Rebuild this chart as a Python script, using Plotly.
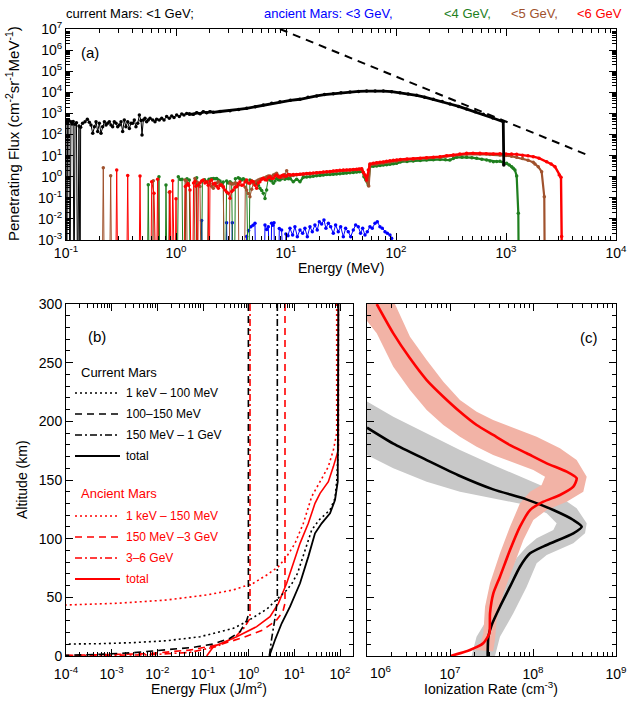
import plotly.graph_objects as go

W, H = 629, 701
def px(x): return x / W
def py(y): return 1 - y / H

FLOOR = 1e-6  # stands in for zero flux (below the axis)

# ---------------- Panel (a): (log10 E [MeV], log10 flux); None = zero flux
black_lo = [(-1.0,2.65),(-0.994,None),(-0.985,2.55),(-0.975,2.68),(-0.964,None),(-0.955,2.6),(-0.945,2.5),
    (-0.935,2.62),(-0.927,None),(-0.918,2.48),(-0.905,2.56),(-0.894,None),(-0.882,2.4),(-0.872,None),
    (-0.867,2.34),(-0.849,2.53),(-0.827,2.61),(-0.806,2.72),(-0.788,2.58),(-0.773,2.45),(-0.757,2.06),
    (-0.742,2.37),(-0.727,2.61),(-0.712,2.14),(-0.697,2.53),(-0.682,2.06),(-0.667,2.37),(-0.651,2.61),
    (-0.636,2.45),(-0.621,2.53),(-0.606,2.61),(-0.591,2.45),(-0.576,2.37),(-0.561,2.61),(-0.545,2.53),
    (-0.530,2.37),(-0.515,2.45),(-0.500,2.61),(-0.485,2.14),(-0.470,2.69),(-0.455,2.37),(-0.439,2.61),
    (-0.424,2.29),(-0.409,2.53),(-0.394,2.53),(-0.379,2.69),(-0.364,2.37),(-0.348,2.53),(-0.333,2.92),
    (-0.318,2.66),(-0.309,1.98),(-0.297,2.69),(-0.282,2.77),(-0.267,2.61),(-0.252,2.69),(-0.236,2.77),
    (-0.212,2.69),(-0.191,2.61),(-0.176,2.72),(-0.152,2.69),(-0.130,2.77),(-0.109,2.69),(-0.085,2.85),
    (-0.061,2.77),(-0.039,2.88),(-0.018,2.81),(0.006,2.92),(0.030,2.85),(0.052,2.97),(0.073,2.92),
    (0.097,3.0),(0.121,2.97)]
black_hi = [(0.121,2.97),(0.158,2.96),(0.188,3.03),(0.218,2.98),(0.248,3.08),(0.279,3.03),(0.309,3.08),
    (0.339,3.05),(0.4,3.09),(0.491,3.13),(0.57,3.19),(0.642,3.24),(0.72,3.32),(0.794,3.4),(0.87,3.48),
    (0.945,3.556),(1.04,3.62),(1.127,3.67),(1.2,3.76),(1.279,3.83),(1.35,3.89),(1.43,3.935),(1.5,3.98),
    (1.582,4.014),(1.66,4.04),(1.733,4.06),(1.81,4.065),(1.885,4.06),(1.96,4.03),(2.036,3.98),(2.11,3.92),
    (2.188,3.856),(2.26,3.77),(2.339,3.67),(2.42,3.56),(2.491,3.445),(2.57,3.33),(2.642,3.21),(2.72,3.08),
    (2.794,2.956),(2.88,2.78),(2.975,2.61),(2.98,0.55)]
dashed_ref = [(0.945,7.0),(3.763,0.98)]

red_lo = [(-0.55,None),(-0.539,0.32),(-0.528,None),(-0.45,None),(-0.439,0.06),(-0.428,None),
    (-0.338,None),(-0.327,0.03),(-0.316,None),(-0.23,None),(-0.221,-0.24),(-0.2,-0.79),(-0.19,None),
    (-0.178,None),(-0.167,-0.12),(-0.156,None),(-0.066,None),(-0.055,-0.71),(-0.044,None),
    (-0.04,None),(-0.03,-0.19),(-0.02,None),(-0.01,None),(0.0,-1.04),(0.01,None),
    (0.075,None),(0.085,-0.47),(0.097,-0.39),(0.109,-0.32),(0.115,-0.4),(0.127,-0.63),(0.14,None),
    (0.15,None),(0.16,-0.3),(0.172,-0.22),(0.182,-0.45),(0.19,None),
    (0.195,None),(0.203,-0.39),(0.218,-0.3),(0.233,-0.2),(0.248,-0.156),(0.263,-0.3),(0.278,-0.235),
    (0.293,-0.4),(0.302,None),(0.309,-0.2),(0.324,-0.156),(0.339,-0.35),(0.354,-0.314),(0.37,-0.45),
    (0.385,-0.551),(0.4,-0.4),(0.415,-0.393),(0.43,-0.5),(0.445,-0.63),(0.46,-0.72),(0.475,-0.788),
    (0.491,-1.025),(0.506,-0.7),(0.521,-0.63),(0.536,-0.5),(0.551,-0.472),(0.566,-0.35),(0.581,-0.235),
    (0.597,-0.4),(0.612,-0.393),(0.627,-0.25),(0.642,-0.156),(0.657,-0.3),(0.672,-0.314),(0.688,-0.2),
    (0.703,-0.235),(0.718,-0.4),(0.733,-0.551),(0.748,-0.3),(0.763,-0.235),(0.779,-0.12),(0.794,-0.077),
    (0.809,-0.15),(0.824,-0.156),(0.839,-0.05),(0.854,0.002),(0.869,-0.08),(0.885,-0.077),(0.9,0.03),
    (0.915,0.081),(0.93,0.0),(0.945,-0.03),(0.96,0.05),(0.975,0.081),(0.99,0.02),(1.006,0.033),
    (1.021,0.1),(1.036,0.08)]
red_hi = [(1.036,0.08),(1.066,0.1),(1.097,0.11),(1.127,0.12),(1.157,0.13),(1.188,0.15),(1.218,0.16),
    (1.248,0.17),(1.278,0.19),(1.309,0.2),(1.339,0.22),(1.37,0.24),(1.4,0.25),(1.43,0.27),(1.46,0.28),
    (1.49,0.3),(1.521,0.32),(1.551,0.32),(1.581,0.32),(1.612,0.34),(1.642,0.35),(1.665,0.37),(1.688,0.38),
    (1.703,0.2),(1.718,0.08),(1.733,-0.156),(1.748,0.32),(1.763,0.6),(1.794,0.64),(1.824,0.665),
    (1.855,0.68),(1.885,0.7),(1.915,0.73),(1.945,0.76),(1.976,0.78),(2.006,0.79),(2.04,0.82),(2.1,0.84),
    (2.157,0.855),(2.22,0.88),(2.278,0.9),(2.34,0.92),(2.4,0.95),(2.46,0.99),(2.521,1.03),(2.58,1.07),
    (2.642,1.107),(2.7,1.11),(2.763,1.107),(2.82,1.09),(2.885,1.08),(2.945,1.09),(3.0,1.08),(3.05,1.07),
    (3.097,1.06),(3.15,1.02),(3.2,0.99),(3.248,0.95),(3.3,0.88),(3.37,0.71),(3.41,0.6),(3.445,0.475),
    (3.484,0.08),(3.5,-0.03),(3.506,-2.84),(3.51,None)]

green_lo = [(-0.262,None),(-0.252,-0.38),(-0.242,None),(-0.165,None),(-0.155,0.0),(-0.145,None),
    (-0.1,None),(-0.091,-0.39),(-0.08,None),(0.01,None),(0.021,0.0),(0.04,-0.13),(0.055,-0.125),
    (0.065,None),(0.08,None),(0.09,-0.16),(0.1,-0.1),(0.121,-0.157),(0.13,None),(0.18,None),
    (0.188,-0.05),(0.2,None),(0.23,None),(0.24,-0.2),(0.26,-0.15),(0.28,-0.25),(0.3,-0.12),(0.32,-0.1),
    (0.339,-0.08),(0.355,-0.1),(0.37,-0.08),(0.385,-0.16),(0.4,-0.2),(0.415,-0.31),(0.43,-0.25),
    (0.44,None),(0.45,None),(0.46,-0.2),(0.475,-0.3),(0.491,-0.235),(0.506,-0.314),(0.52,None),
    (0.53,None),(0.54,-0.1),(0.566,-0.05),(0.581,-0.1),(0.597,-0.156),(0.612,-0.1),(0.627,-0.156),
    (0.642,-0.2),(0.66,None),(0.665,None),(0.672,-0.156),(0.688,-0.2),(0.703,-0.25),(0.718,-0.3),
    (0.733,-0.314),(0.748,-0.4),(0.763,-0.55),(0.779,-0.65),(0.794,-0.79),(0.809,-1.03),(0.824,-0.63),
    (0.839,-0.08),(0.854,-0.156),(0.869,-0.2),(0.885,-0.314),(0.9,-0.2),(0.915,-0.08),(0.93,-0.15),
    (0.945,-0.156),(0.96,-0.1),(0.975,-0.03),(0.99,-0.12),(1.006,-0.06),(1.021,-0.1),(1.036,-0.08)]
green_hi = [(1.036,-0.08),(1.066,-0.235),(1.097,-0.12),(1.127,-0.235),(1.157,-0.03),(1.188,-0.02),
    (1.218,0.0),(1.248,0.02),(1.278,0.05),(1.309,0.06),(1.339,0.08),(1.37,0.1),(1.4,0.11),(1.43,0.12),
    (1.46,0.13),(1.49,0.14),(1.521,0.16),(1.551,0.17),(1.581,0.19),(1.612,0.2),(1.642,0.22),(1.67,0.23),
    (1.697,0.24),(1.709,0.0),(1.727,-0.156),(1.748,-0.39),(1.763,0.475),(1.794,0.49),(1.824,0.507),
    (1.855,0.53),(1.885,0.555),(1.915,0.57),(1.945,0.586),(1.976,0.61),(2.006,0.634),(2.04,0.7),
    (2.1,0.72),(2.157,0.75),(2.22,0.77),(2.278,0.79),(2.34,0.8),(2.4,0.82),(2.45,0.8),(2.49,0.79),
    (2.521,0.86),(2.551,0.918),(2.6,0.92),(2.642,0.918),(2.69,0.9),(2.733,0.87),(2.78,0.83),(2.824,0.79),
    (2.855,0.75),(2.885,0.71),(2.915,0.72),(2.945,0.73),(2.975,0.68),(3.006,0.633),(3.03,0.56),
    (3.051,0.475),(3.066,0.4),(3.081,0.317),(3.097,0.033),(3.112,-1.736),(3.118,None)]

brown_lo = [(-0.672,None),(-0.661,0.43),(-0.65,None),(-0.605,None),(-0.594,0.05),(-0.583,None),
    (-0.217,None),(-0.206,-0.19),(-0.195,None),(-0.072,None),(-0.061,-0.74),(-0.05,None),
    (0.07,None),(0.082,-0.156),(0.095,-0.2),(0.105,None),(0.16,None),(0.172,-0.09),(0.19,-0.25),
    (0.203,-0.3),(0.218,-0.47),(0.23,None),(0.28,None),(0.294,-0.3),(0.309,-0.314),(0.324,-0.45),
    (0.339,-0.55),(0.354,-0.4),(0.37,-0.3),(0.385,-0.235),(0.4,-0.35),(0.415,-0.4),(0.43,-0.47),
    (0.44,None),(0.48,None),(0.491,-0.3),(0.506,-0.35),(0.521,-0.346),(0.536,-0.3),(0.551,-0.314),
    (0.566,-0.4),(0.575,None),(0.62,None),(0.63,-0.5),(0.642,-0.63),(0.657,-0.8),(0.672,-0.95),
    (0.688,-0.6),(0.703,-0.314),(0.718,-0.25),(0.733,-0.2),(0.748,-0.156),(0.763,-0.12),(0.779,-0.1),
    (0.794,-0.077),(0.809,-0.05),(0.824,0.0),(0.839,0.03),(0.854,0.033),(0.869,0.0),(0.885,0.08),
    (0.9,0.12),(0.915,0.16),(0.93,0.05),(0.945,0.0),(0.96,-0.03),(0.975,-0.05),(0.99,0.1),
    (1.006,0.286),(1.021,0.1),(1.036,0.05)]
brown_hi = [(1.036,0.05),(1.066,0.06),(1.097,0.09),(1.157,0.11),(1.218,0.13),(1.278,0.17),(1.339,0.2),
    (1.4,0.22),(1.46,0.26),(1.521,0.29),(1.581,0.3),(1.642,0.33),(1.688,0.35),(1.718,0.05),(1.733,-0.2),
    (1.752,-0.44),(1.763,0.55),(1.824,0.6),(1.885,0.65),(1.945,0.7),(2.006,0.74),(2.08,0.79),
    (2.157,0.83),(2.278,0.87),(2.4,0.92),(2.521,1.0),(2.642,1.06),(2.763,1.07),(2.855,1.05),
    (2.945,1.03),(3.0,1.0),(3.05,0.97),(3.097,0.918),(3.15,0.86),(3.2,0.78),(3.248,0.68),(3.263,0.6),
    (3.293,0.475),(3.324,0.24),(3.348,-0.95),(3.354,None)]

blue_all = [(0.222,None),(0.233,-2.08),(0.244,None),(0.45,None),(0.46,-2.18),(0.47,None),
    (0.502,None),(0.512,-2.18),(0.522,None),(0.632,None),(0.642,-2.84),(0.66,-2.55),(0.681,-2.37),
    (0.7,-2.3),(0.718,-2.21),(0.728,None),(0.799,None),(0.809,-2.29),(0.824,-2.5),(0.839,-2.37),
    (0.849,None),(0.859,None),(0.869,-2.21),(0.88,-2.3),(0.891,-2.18),(0.901,None),(0.929,None),
    (0.939,-2.45),(0.96,-2.53),(0.97,None),(0.99,None),(0.999,-2.72),(1.018,-2.8),
    (1.036,-2.447),(1.06,-2.763),(1.081,-2.368),(1.103,-2.842),(1.127,-2.526),(1.151,-2.684),
    (1.172,-2.447),(1.194,-2.842),(1.218,-2.368),(1.239,-2.605),(1.263,-2.289),(1.284,-2.526),
    (1.303,-2.131),(1.324,-2.242),(1.345,-2.052),(1.363,-2.447),(1.385,-2.21),(1.406,-2.368),
    (1.43,-2.684),(1.451,-2.289),(1.475,-2.605),(1.497,-2.368),(1.521,-2.842),(1.542,-2.447),
    (1.566,-2.605),(1.588,-2.842),(1.612,-2.526),(1.633,-2.289),(1.657,-2.368),(1.678,-2.684),
    (1.697,-2.447),(1.718,-2.763),(1.739,-2.605),(1.763,-2.368),(1.784,-2.447),(1.809,-2.21),
    (1.83,-2.131),(1.854,-2.368),(1.875,-2.447),(1.9,-2.605),(1.921,-2.684),(1.945,-2.763),
    (1.96,-2.92),(1.975,None)]

# ---------------- Panel (b): (log10 energy flux [J/m^2], altitude km)
b_cur_low = [(1.963,300),(1.963,180),(1.93,150),(1.89,134.4),(1.78,124.4),(1.54,115.9),(1.38,107.4),
    (1.22,87.5),(1.07,70.5),(0.95,62),(0.83,56),(0.6,47.7),(0.4,40),(0.248,36.4),(-0.043,29.3),
    (-0.335,23.6),(-1.066,16.4),(-1.795,13),(-2.526,11.4),(-3.256,10.5),(-4.0,10.2)]
b_cur_mid = [(-0.007,300),(-0.007,35),(-0.043,30.4),(-0.19,20.7),(-0.41,15.1),(-0.775,10.2),
    (-1.21,7.4),(-1.795,5.1),(-2.526,2.8),(-3.256,1.4),(-4.0,0.6)]
b_cur_high = [(0.627,300),(0.627,50),(0.6,38),(0.554,28),(0.5,14),(0.452,0)]
b_cur_total = [(1.963,300),(1.963,175),(1.95,148.6),(1.89,133),(1.781,121.6),(1.598,113.1),
    (1.452,104.6),(1.306,84.7),(1.124,62),(0.905,42),(0.723,27.9),(0.576,13.6),(0.452,0)]
b_anc_low = [(1.927,300),(1.927,189.8),(1.854,175.6),(1.744,161.4),(1.562,148.6),(1.379,135.8),
    (1.197,113.1),(1.014,96),(0.832,84.7),(0.65,76.1),(0.395,69),(0.1,62),(-0.337,56.3),(-0.92,52),
    (-1.795,47.7),(-2.89,44.9),(-4.0,43.5)]
b_anc_mid = [(0.795,300),(0.795,45),(0.75,38),(0.6,30),(0.3,22),(-0.1,16),(-0.6,10),(-1.3,5),
    (-2.2,2),(-4.0,0.5)]
b_anc_high = [(0.029,300),(0.029,32),(-0.1,24),(-0.3,16),(-0.7,8),(-1.3,3),(-2.2,1),(-4.0,0.3)]
b_anc_total = [(1.963,300),(1.963,175.6),(1.854,161.4),(1.744,148.6),(1.562,138.6),(1.452,130.1),
    (1.306,113.1),(1.124,96),(0.978,79),(0.832,62),(0.65,44.9),(0.467,33.5),(0.175,25),(-0.263,16.4),
    (-0.774,7.9),(-0.92,0)]

# ---------------- Panel (c): (log10 ionization rate [cm^-3], altitude km)
c_cur = [(6.0,194.6),(6.317,181),(6.719,167),(7.12,153.4),(7.52,142),(7.92,133.5),(8.245,124.4),
    (8.486,115.9),(8.587,110.2),(8.486,104.6),(8.165,94.6),(7.964,87.5),(7.843,76.1),(7.723,59.1),
    (7.602,42),(7.502,26.4),(7.462,16.4),(7.454,2.3),(7.454,0)]
c_cur_hi = [(5.95,219),(6.0,216.8),(6.317,204),(6.719,189.8),(7.12,175.6),(7.52,162.8),(7.843,152.8),
    (8.084,145.7),(8.325,135.8),(8.526,125.9),(8.647,113.1),(8.627,104.6),(8.486,96),(8.165,86),
    (8.044,79),(7.924,59),(7.763,36.4),(7.602,16.4),(7.542,0)]
c_cur_lo = [(5.95,173),(6.0,171.3),(6.317,160),(6.719,148.6),(7.12,140),(7.52,134.4),(7.924,128.7),
    (8.165,121.6),(8.285,113.1),(8.245,107.4),(8.044,100.3),(7.924,93.2),(7.80,83.3),(7.683,64.8),
    (7.562,47.7),(7.442,30.7),(7.32,16.4),(7.26,0)]
c_anc = [(6.117,300),(6.317,275),(6.518,253.7),(6.719,235.2),(6.92,221),(7.12,208.2),(7.321,196.9),
    (7.52,188.4),(7.723,179.8),(7.924,172.8),(8.165,164.2),(8.406,157.1),(8.526,151.5),(8.486,144.3),
    (8.325,137.2),(8.125,131.5),(7.964,124.4),(7.843,110.2),(7.723,90.3),(7.602,67.6),(7.522,53.4),
    (7.482,36.4),(7.474,19.3),(7.40,10.8),(7.241,5.1),(7.008,0)]
c_anc_hi = [(6.337,300),(6.518,272),(6.719,252.3),(6.92,233.8),(7.12,218.2),(7.321,208.2),(7.52,201.1),
    (7.723,195.4),(8.044,186.9),(8.325,177),(8.526,167),(8.647,152.8),(8.606,140),(8.406,131.5),
    (8.165,124.4),(8.004,115.9),(7.884,98.9),(7.763,76.1),(7.643,53.4),(7.562,30.7),(7.542,13.6),
    (7.52,4)]
c_anc_lo = [(5.95,300),(5.95,290),(6.117,275),(6.317,246.6),(6.518,226.7),(6.719,209.7),(6.92,196.9),
    (7.12,186.9),(7.321,178.4),(7.52,171.3),(7.723,165.6),(8.004,158.5),(8.145,152.8),(8.104,145.7),
    (7.964,140),(7.843,130.1),(7.723,110.2),(7.602,87.5),(7.482,62),(7.422,42),(7.402,19.3),
    (7.361,8),(7.30,5.1)]

# tick labels
a_xticks = [-1, 0, 1, 2, 3, 4]
a_yticks = [-3, -2, -1, 0, 1, 2, 3, 4, 5, 6, 7]
b_xticks = [-4, -3, -2, -1, 0, 1, 2]
c_xticks = [6, 7, 8, 9]
alt_ticks = [0, 50, 100, 150, 200, 250, 300]

RED, BLUE, GREEN, BROWN = '#FF0000', '#0000FF', '#1E7F1E', '#A0522D'
GREY_BAND, RED_BAND = '#C8C8C8', '#F2B3A6'
FONT = 'Liberation Sans'

def lin(v):
    return FLOOR if v is None else 10 ** v

def xs(pts): return [lin(p[0]) for p in pts]
def ys_log(pts): return [lin(p[1]) for p in pts]
def ys(pts): return [p[1] for p in pts]

fig = go.Figure()

def add_a(pts, color, width, msize=3.5, mode='lines+markers'):
    fig.add_trace(go.Scatter(x=xs(pts), y=ys_log(pts), mode=mode, xaxis='x', yaxis='y',
                             line=dict(color=color, width=width),
                             marker=dict(size=msize, color=color), cliponaxis=True,
                             hoverinfo='skip'))

add_a(blue_all, BLUE, 1)
add_a(green_lo, GREEN, 1)
add_a(brown_lo, BROWN, 1)
add_a(red_lo, RED, 1)
add_a(green_hi, GREEN, 2.2)
add_a(brown_hi, BROWN, 2.2)
add_a(red_hi, RED, 2.4)
add_a(black_lo, 'black', 1)
add_a(black_hi, 'black', 2.8)
fig.add_trace(go.Scatter(x=xs(dashed_ref), y=ys_log(dashed_ref), mode='lines', xaxis='x', yaxis='y',
                         line=dict(color='black', width=2, dash='8px,6px'), hoverinfo='skip'))

def add_b(pts, color, dash, width):
    fig.add_trace(go.Scatter(x=xs(pts), y=ys(pts), mode='lines', xaxis='x2', yaxis='y2',
                             line=dict(color=color, width=width, dash=dash), hoverinfo='skip'))

DOT, DASH, DASHDOT = '2px,3px', '7px,5px', '7px,3px,2px,3px'
add_b(b_anc_low, RED, DOT, 1.6)
add_b(b_anc_mid, RED, DASH, 1.6)
add_b(b_anc_high, RED, DASHDOT, 1.6)
add_b(b_anc_total, RED, 'solid', 1.6)
add_b(b_cur_low, 'black', DOT, 1.6)
add_b(b_cur_mid, 'black', DASH, 1.6)
add_b(b_cur_high, 'black', DASHDOT, 1.6)
add_b(b_cur_total, 'black', 'solid', 1.8)

def add_band(hi, lo, color):
    poly = hi + lo[::-1]
    fig.add_trace(go.Scatter(x=xs(poly), y=ys(poly), mode='lines', fill='toself', fillcolor=color,
                             line=dict(width=0, color=color), xaxis='x3', yaxis='y3', hoverinfo='skip'))

add_band(c_cur_hi, c_cur_lo, GREY_BAND)
add_band(c_anc_hi, c_anc_lo, RED_BAND)
for pts, color in [(c_cur, 'black'), (c_anc, RED)]:
    fig.add_trace(go.Scatter(x=xs(pts), y=ys(pts), mode='lines', xaxis='x3', yaxis='y3',
                             line=dict(color=color, width=2.6, shape='spline', smoothing=0.6),
                             hoverinfo='skip'))

def pow_text(k):
    return '10<sup>%d</sup>' % k

def log_minor(lo, hi):
    return [m * 10 ** k for k in range(lo, hi + 1) for m in range(2, 10)]

axis_common = dict(showline=True, linecolor='black', linewidth=1, mirror='allticks', ticks='inside',
                   ticklen=7, tickwidth=1, tickcolor='black', showgrid=False, zeroline=False,
                   automargin=False,
                   tickfont=dict(size=14, color='black', family=FONT))

def log_axis(ticks, rng, domain, anchor, minor_lo, minor_hi, hide_first=False, standoff=None):
    d = dict(axis_common)
    d.update(type='log', range=rng, domain=domain, anchor=anchor, tickmode='array',
             tickvals=[10 ** k for k in ticks],
             ticktext=[('' if (hide_first and i == 0) else pow_text(k)) for i, k in enumerate(ticks)],
             minor=dict(tickmode='array', tickvals=log_minor(minor_lo, minor_hi), ticks='inside',
                        ticklen=4, tickcolor='black', showgrid=False))
    if standoff is not None:
        d['ticklabelstandoff'] = standoff
    return d

def alt_axis(domain, anchor, show):
    d = dict(axis_common)
    d.update(range=[0, 300], domain=domain, anchor=anchor, tickmode='array', tickvals=alt_ticks,
             showticklabels=show,
             minor=dict(dtick=10, ticks='inside', ticklen=4, tickcolor='black', showgrid=False))
    return d

fig.update_layout(
    width=W, height=H, margin=dict(l=0, r=0, t=0, b=0, autoexpand=False),
    paper_bgcolor='white', plot_bgcolor='white', showlegend=False,
    font=dict(family=FONT, size=13, color='black'),
    xaxis=log_axis(a_xticks, [-1, 4], [px(66), px(616)], 'y', -1, 3),
    yaxis=log_axis(a_yticks, [-3, 7], [py(240), py(29)], 'x', -3, 6),
    xaxis2=log_axis(b_xticks, [-4, 2.284], [px(66), px(353)], 'y2', -4, 2, standoff=5),
    yaxis2=alt_axis([py(656), py(304)], 'x2', True),
    xaxis3=log_axis(c_xticks, [6, 9], [px(367), px(616)], 'y3', 6, 8, hide_first=True, standoff=5),
    yaxis3=alt_axis([py(656), py(304)], 'x3', False),
)

ann = []
def text(x, y, s, color='black', size=14, xanchor='center', angle=0):
    ann.append(dict(x=px(x), y=py(y), xref='paper', yref='paper', text=s, showarrow=False,
                    xanchor=xanchor, yanchor='middle', textangle=angle,
                    font=dict(color=color, size=size, family=FONT)))

# header
text(64, 13, 'current Mars: &lt;1 GeV;', 'black', 13, 'left')
text(262, 13, 'ancient Mars: &lt;3 GeV,', BLUE, 13, 'left')
text(442, 13, '&lt;4 GeV,', GREEN, 13, 'left')
text(509, 13, '&lt;5 GeV,', BROWN, 13, 'left')
text(575, 13, '&lt;6 GeV', RED, 13, 'left')
# panel labels
text(90, 52, '(a)', size=15)
text(97, 336, '(b)', size=15)
text(589, 337, '(c)', size=15)
# first tick label of panel (c), nudged right of the shared corner
text(368, 672, pow_text(c_xticks[0]), size=14, xanchor='left')
# axis titles
text(341, 268, 'Energy (MeV)')
text(12, 134, 'Penetrating Flux (cm<sup>-2</sup>sr<sup>-1</sup>MeV<sup>-1</sup>)', size=15, angle=-90)
text(22, 480, 'Altitude (km)', angle=-90)
text(209, 688, 'Energy Flux (J/m<sup>2</sup>)')
text(491, 688, 'Ionization Rate (cm<sup>-3</sup>)')

# panel (b) legend
legend_rows = [
    ('Current Mars', None, None, 'black', 372),
    ('1 keV – 100 MeV', 'black', 'dot', 'black', 393),
    ('100–150 MeV', 'black', 'dash', 'black', 414),
    ('150 MeV – 1 GeV', 'black', 'dashdot', 'black', 435),
    ('total', 'black', 'solid', 'black', 456),
    ('Ancient Mars', None, None, RED, 494),
    ('1 keV – 150 MeV', RED, 'dot', RED, 516),
    ('150 MeV –3 GeV', RED, 'dash', RED, 537),
    ('3–6 GeV', RED, 'dashdot', RED, 558),
    ('total', RED, 'solid', RED, 579),
]
dash_map = {'dot': DOT, 'dash': DASH, 'dashdot': DASHDOT, 'solid': 'solid'}
shapes = []
for label, lc, ls, tc, yy in legend_rows:
    if lc is None:
        text(79, yy, label, tc, 13, 'left')
    else:
        shapes.append(dict(type='line', xref='paper', yref='paper', x0=px(75), x1=px(120),
                           y0=py(yy), y1=py(yy),
                           line=dict(color=lc, width=2 if ls == 'solid' else 1.6, dash=dash_map[ls])))
        text(124, yy, label, tc, 12, 'left')

fig.update_layout(annotations=ann, shapes=shapes)
fig.write_html('out.html', config={'displayModeBar': False, 'staticPlot': True},
               post_script="document.body.style.margin='0';document.body.style.padding='0';"
                           "document.documentElement.style.overflow='hidden';")
